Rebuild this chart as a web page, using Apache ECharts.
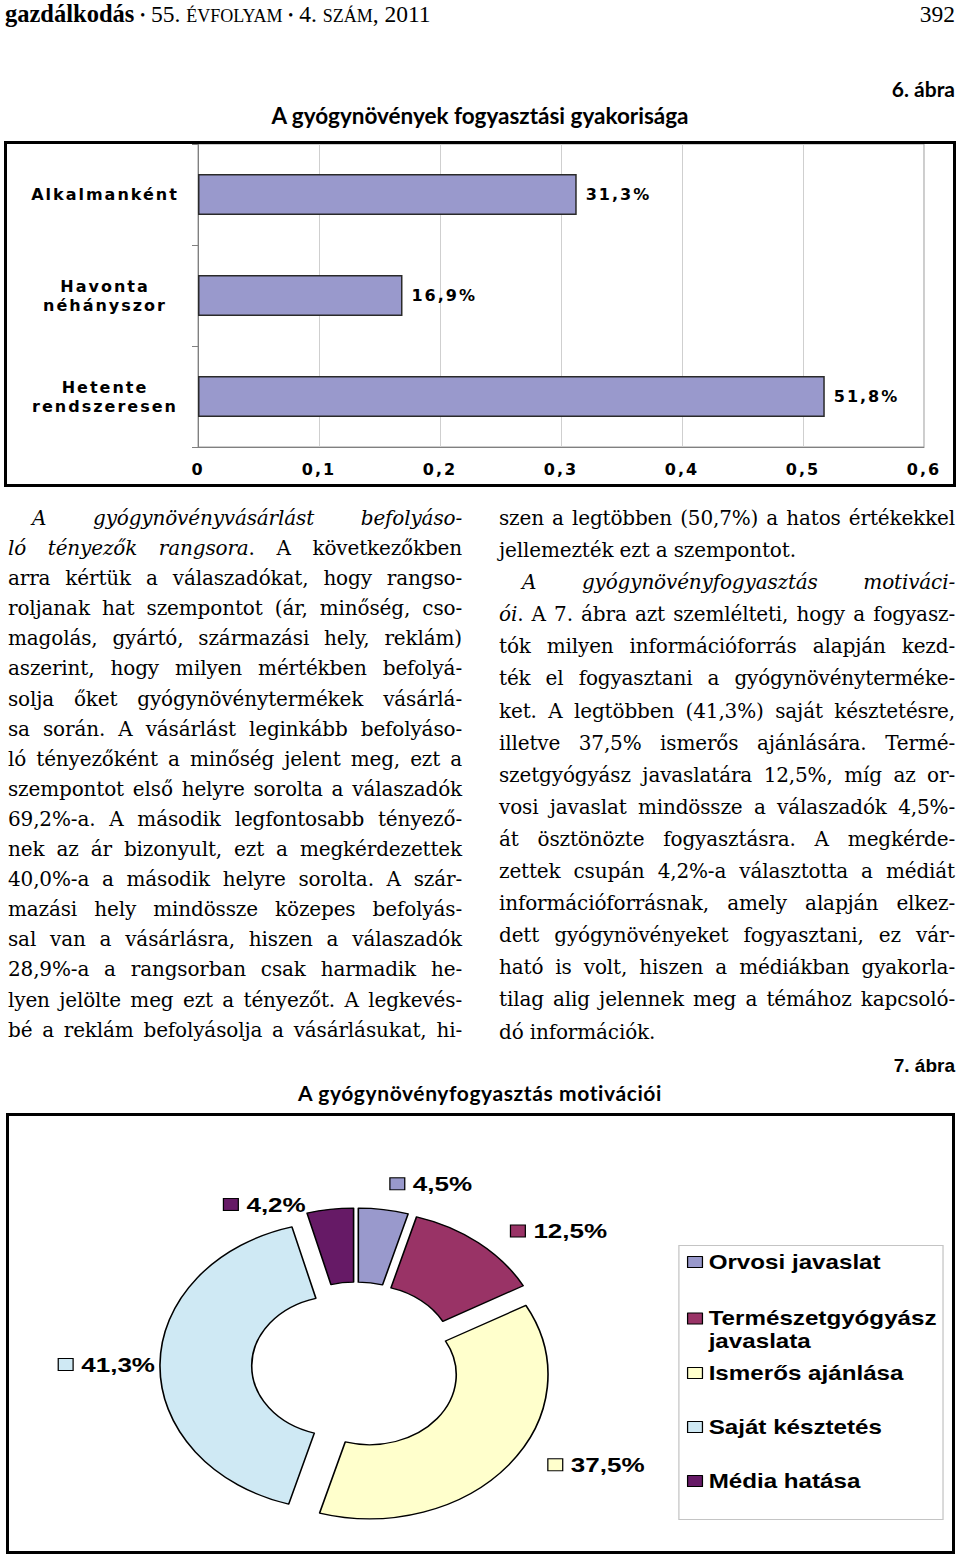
<!DOCTYPE html>
<html>
<head>
<meta charset="utf-8">
<script src="https://cdn.jsdelivr.net/npm/echarts@6/dist/echarts.min.js"></script>
<style>
html,body{margin:0;padding:0;background:#fff;}
body{width:960px;height:1555px;position:relative;overflow:hidden;color:#000;}
.abs{position:absolute;}
.hdr{font-family:"Liberation Serif",serif;font-size:23.5px;line-height:28px;white-space:nowrap;}
.fig{font-family:Lato,"DejaVu Sans",sans-serif;font-weight:700;white-space:nowrap;}
.col{font-family:"DejaVu Serif",serif;font-size:20px;letter-spacing:-0.15px;}
.col div{text-align:justify;text-align-last:justify;}
.col div.l{text-align-last:left;}
.frame{border:3px solid #000;box-sizing:border-box;pointer-events:none;}
#bar text{letter-spacing:2px;}
</style>
</head>
<body>
<!-- page header -->
<div class="abs hdr" style="left:5px;top:0px;"><b style="font-size:24.5px">gazdálkodás</b> <span style="font-size:14px;vertical-align:2px">•</span> 55. <span style="font-size:18px">ÉVFOLYAM</span> <span style="font-size:14px;vertical-align:2px">•</span> 4. <span style="font-size:18px">SZÁM</span>, 2011</div>
<div class="abs hdr" style="right:5px;top:0px;">392</div>

<div class="abs fig" style="right:5px;top:76px;font-size:21px;line-height:26px;">6. ábra</div>
<div class="abs fig" style="left:0;width:960px;text-align:center;top:103px;font-size:22.5px;line-height:26px;">A gyógynövények fogyasztási gyakorisága</div>

<div id="bar" class="abs" style="left:0;top:130px;width:960px;height:365px;"></div>
<div class="abs frame" style="left:4px;top:141px;width:952px;height:346px;"></div>

<div class="abs col" style="left:8px;top:503px;width:454px;line-height:30.1px;">
<div style="padding-left:24px"><i>A gyógynövényvásárlást befolyáso-</i></div>
<div><i>ló tényezők rangsora</i>. A következőkben</div>
<div>arra kértük a válaszadókat, hogy rangso-</div>
<div>roljanak hat szempontot (ár, minőség, cso-</div>
<div>magolás, gyártó, származási hely, reklám)</div>
<div>aszerint, hogy milyen mértékben befolyá-</div>
<div>solja őket gyógynövénytermékek vásárlá-</div>
<div>sa során. A vásárlást leginkább befolyáso-</div>
<div>ló tényezőként a minőség jelent meg, ezt a</div>
<div>szempontot első helyre sorolta a válaszadók</div>
<div>69,2%-a. A második legfontosabb tényező-</div>
<div>nek az ár bizonyult, ezt a megkérdezettek</div>
<div>40,0%-a a második helyre sorolta. A szár-</div>
<div>mazási hely mindössze közepes befolyás-</div>
<div>sal van a vásárlásra, hiszen a válaszadók</div>
<div>28,9%-a a rangsorban csak harmadik he-</div>
<div>lyen jelölte meg ezt a tényezőt. A legkevés-</div>
<div>bé a reklám befolyásolja a vásárlásukat, hi-</div>
</div>

<div class="abs col" style="left:499px;top:502px;width:456px;line-height:32.1px;">
<div>szen a legtöbben (50,7%) a hatos értékekkel</div>
<div class="l">jellemezték ezt a szempontot.</div>
<div style="padding-left:23px"><i>A gyógynövényfogyasztás motiváci-</i></div>
<div><i>ói</i>. A 7. ábra azt szemlélteti, hogy a fogyasz-</div>
<div>tók milyen információforrás alapján kezd-</div>
<div>ték el fogyasztani a gyógynövényterméke-</div>
<div>ket. A legtöbben (41,3%) saját késztetésre,</div>
<div>illetve 37,5% ismerős ajánlására. Termé-</div>
<div>szetgyógyász javaslatára 12,5%, míg az or-</div>
<div>vosi javaslat mindössze a válaszadók 4,5%-</div>
<div>át ösztönözte fogyasztásra. A megkérde-</div>
<div>zettek csupán 4,2%-a választotta a médiát</div>
<div>információforrásnak, amely alapján elkez-</div>
<div>dett gyógynövényeket fogyasztani, ez vár-</div>
<div>ható is volt, hiszen a médiákban gyakorla-</div>
<div>tilag alig jelennek meg a témához kapcsoló-</div>
<div class="l">dó információk.</div>
</div>

<div class="abs" style="right:5px;top:1055px;font-family:'Liberation Sans',Arial,sans-serif;font-weight:700;font-size:19px;line-height:22px;">7. ábra</div>
<div class="abs fig" style="left:0;width:960px;text-align:center;top:1080px;font-size:21px;line-height:26px;letter-spacing:0.6px;">A gyógynövényfogyasztás motivációi</div>

<div id="pie" class="abs" style="left:0;top:1105px;width:774px;height:450px;transform:scaleX(1.24);transform-origin:0 0;"></div>
<div class="abs frame" style="left:6px;top:1113px;width:949px;height:441px;"></div>

<script>
// ---- Figure 6 data ----
const barCategories = ['Alkalmanként', 'Havonta\nnéhányszor', 'Hetente\nrendszeresen'];
const barValues = [0.313, 0.169, 0.518];
const xTickLabels = ['0', '0,1', '0,2', '0,3', '0,4', '0,5', '0,6'];

// ---- Figure 7 data ----
const pieNames = ['Orvosi javaslat', 'Természetgyógyász javaslata', 'Ismerős ajánlása', 'Saját késztetés', 'Média hatása'];
const pieValues = [4.5, 12.5, 37.5, 41.3, 4.2];
const pieColors = ['#9999CC', '#993366', '#FFFFCC', '#CFE9F4', '#661A66'];
// label placement styling per slice (outside-end look)
const labelLineLen = [26, 15, 0, 0, 5];
const labelDist = [2, 17, 32, 4, 19];

function fmtPct(v) { return v.toFixed(1).replace('.', ',') + '%'; }

const SANS_B = 'DejaVu Sans';

const bar = echarts.init(document.getElementById('bar'), null, {renderer: 'svg'});
bar.setOption({
  animation: false,
  grid: {left: 198, right: 36, top: 14, bottom: 48, show: true, borderColor: '#9a9a9a', borderWidth: 1, outerBoundsMode: 'none'},
  xAxis: {
    type: 'value', min: 0, max: 0.6, interval: 0.1,
    axisLine: {show: true, lineStyle: {color: '#808080', width: 1}},
    axisTick: {show: false},
    splitLine: {show: true, lineStyle: {color: '#cfcfcf', width: 1}},
    axisLabel: {margin: 14, color: '#000', fontFamily: SANS_B, fontWeight: 'bold', fontSize: 16,
      formatter: v => xTickLabels[Math.round(v * 10)]}
  },
  yAxis: {
    type: 'category', data: barCategories, inverse: true,
    axisLine: {show: true, lineStyle: {color: '#808080'}},
    axisTick: {show: true, length: 6, lineStyle: {color: '#808080'}},
    splitLine: {show: false},
    axisLabel: {align: 'center', margin: 93, color: '#000', fontFamily: SANS_B, fontWeight: 'bold', fontSize: 16, lineHeight: 19}
  },
  series: [{
    type: 'bar', data: barValues, barWidth: 41,
    itemStyle: {color: '#9999CC', borderColor: '#2a2a2a', borderWidth: 1.5},
    label: {show: true, position: 'right', distance: 9, color: '#000', fontFamily: SANS_B, fontWeight: 'bold', fontSize: 16,
      formatter: p => fmtPct(p.value * 100)}
  }]
});

const pie = echarts.init(document.getElementById('pie'), null, {renderer: 'svg'});
const rich = {
  v: {fontFamily: 'Liberation Sans', fontWeight: 'bold', fontSize: 21, color: '#000', padding: [0, 0, 0, 7]}
};
pieColors.forEach((c, i) => {
  rich['s' + i] = {width: 11, height: 11, backgroundColor: c, borderColor: '#000', borderWidth: 1};
});
const legendFont = {fontFamily: 'Liberation Sans', fontWeight: 'bold', fontSize: 19.5, color: '#000', lineHeight: 22};
const legendBase = {
  orient: 'vertical', left: 554, padding: 0, itemGap: 32, itemWidth: 12, itemHeight: 11, icon: 'rect',
  selectedMode: false, itemStyle: {borderColor: '#000', borderWidth: 1}, textStyle: legendFont
};
pie.setOption({
  animation: false,
  graphic: [{type: 'rect', shape: {x: 547.5, y: 140.5, width: 213, height: 274},
    style: {fill: 'none', stroke: '#c4c4c4', lineWidth: 1}, silent: true}],
  legend: [
    Object.assign({}, legendBase, {top: 146, data: [pieNames[0]]}),
    Object.assign({}, legendBase, {top: 179, data: [pieNames[1]],
      textStyle: Object.assign({}, legendFont, {lineHeight: 23}),
      formatter: n => '\n' + n.replace(' ', '\n')}),
    Object.assign({}, legendBase, {top: 257, data: pieNames.slice(2)})
  ],
  series: [{
    type: 'pie', center: [287, 261], radius: [70, 144], startAngle: 90, clockwise: true,
    selectedMode: 'multiple', selectedOffset: 14, avoidLabelOverlap: false,
    emphasis: {disabled: true},
    itemStyle: {borderColor: '#000', borderWidth: 1.3},
    select: {itemStyle: {borderColor: '#000', borderWidth: 1.3}},
    label: {show: true, position: 'outside', alignTo: 'none', distanceToLabelLine: 8, rich: rich,
      formatter: p => '{s' + p.dataIndex + '|}{v|' + fmtPct(p.value) + '}'},
    labelLine: {show: false, length: 12, length2: 0},
    data: pieNames.map((n, i) => ({
      name: n, value: pieValues[i], selected: true, itemStyle: {color: pieColors[i]},
      label: {distanceToLabelLine: labelDist[i]}, labelLine: {length: labelLineLen[i]}
    }))
  }]
});
</script>
</body>
</html>
